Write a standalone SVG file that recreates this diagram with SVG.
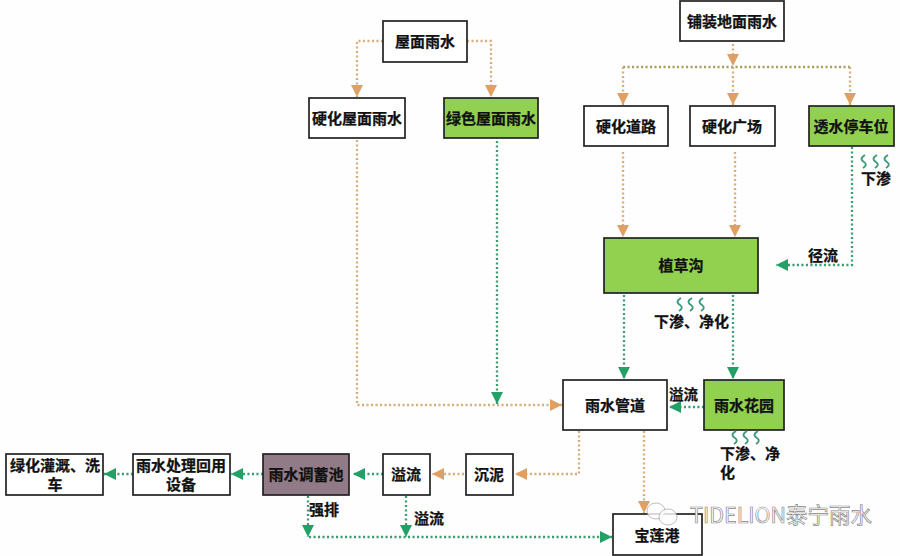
<svg xmlns="http://www.w3.org/2000/svg" width="900" height="556" viewBox="0 0 900 556">
<style>
text{font-family:"Noto Sans CJK SC","Liberation Sans",sans-serif;font-weight:700;font-size:15px;fill:#111;stroke:#111;stroke-width:.25;text-anchor:middle}
.box{fill:#fff;stroke:#222;stroke-width:1.7}
.g{fill:#92d050}
.p{fill:#917b86}
.t,.n{fill:none;stroke-width:2.3;stroke-dasharray:2.1 2.4}
.t{stroke:#d8ae7c;marker-end:url(#at)}
.n{stroke:#3d9a72;marker-end:url(#ag)}
.tl{marker-end:none}
.w{fill:none;stroke:#3f9a7c;stroke-width:1.9}
.lab{text-anchor:start}
.sm{font-size:14.5px}
</style>
<defs>
<marker id="at" markerUnits="userSpaceOnUse" markerWidth="12" markerHeight="12" viewBox="0 0 10 10" refX="10" refY="5" orient="auto"><path d="M0 0L10 5L0 10Z" fill="#e0a064"/></marker>
<marker id="ag" markerUnits="userSpaceOnUse" markerWidth="12" markerHeight="12" viewBox="0 0 10 10" refX="10" refY="5" orient="auto"><path d="M0 0L10 5L0 10Z" fill="#23a065"/></marker>
<path id="wv" d="M3 0C-2 3 -1 5 2 7C5 9 4 11 1 13"/>
</defs>
<rect width="900" height="556" fill="#fefefe"/>
<g id="connectors">
<path class="t" d="M383 41H357V97"/>
<path class="t" d="M467 41H491V97"/>
<path class="t" d="M357 140V405H562"/>
<path class="n" d="M497 141V404"/>
<path class="t" d="M733 44V66"/>
<path class="t tl" style="stroke:#a3a060" d="M623 67H850"/>
<path class="t" d="M623 67V105"/>
<path class="t" d="M733 67V105"/>
<path class="t" d="M850 67V105"/>
<path class="t" d="M623 152V237"/>
<path class="t" d="M735 152V237"/>
<path class="n" d="M852 147V265H776"/>
<path class="n" d="M624 295V379"/>
<path class="n" d="M733 295V379"/>
<path class="n" d="M704 407H669"/>
<path class="t" d="M579 431V474H515"/>
<path class="t" d="M464 474H432"/>
<path class="n" d="M383 474H353"/>
<path class="n" d="M263 474H231"/>
<path class="n" d="M133 474H104"/>
<path class="t" d="M644 431V513"/>
<path class="n" d="M308 496V537"/>
<path class="n" d="M406 496V537"/>
<path class="n" d="M309 537H612"/>
</g>
<g id="n-wumian"><rect class="box" x="383" y="21" width="84" height="41"/><text x="425" y="47">屋面雨水</text></g>
<g id="n-yinghua-wumian"><rect class="box" x="309" y="98" width="96" height="40"/><text x="357" y="124">硬化屋面雨水</text></g>
<g id="n-lvse-wumian"><rect class="box g" x="444" y="98" width="94" height="40"/><text x="491" y="124">绿色屋面雨水</text></g>
<g id="n-puzhuang"><rect class="box" x="680" y="1" width="104" height="40"/><text x="732" y="27">铺装地面雨水</text></g>
<g id="n-daolu"><rect class="box" x="584" y="106" width="84" height="40"/><text x="626" y="132">硬化道路</text></g>
<g id="n-guangchang"><rect class="box" x="690" y="106" width="85" height="40"/><text x="732" y="132">硬化广场</text></g>
<g id="n-tingchewei"><rect class="box g" x="809" y="106" width="85" height="40"/><text x="851" y="132">透水停车位</text></g>
<g id="n-zhicaogou"><rect class="box g" x="604" y="238" width="154" height="55"/><text x="681" y="271">植草沟</text></g>
<g id="n-guandao"><rect class="box" x="563" y="380" width="104" height="50"/><text x="615" y="411">雨水管道</text></g>
<g id="n-huayuan"><rect class="box g" x="704" y="380" width="80" height="50"/><text x="744" y="411">雨水花园</text></g>
<g id="n-baolian"><rect class="box" x="613" y="514" width="89" height="41"/><text x="657" y="541">宝莲港</text></g>
<g id="n-tiaoxu"><rect class="box p" x="263" y="454" width="86" height="41"/><text x="306" y="480">雨水调蓄池</text></g>
<g id="n-yiliu"><rect class="box" x="383" y="454" width="47" height="41"/><text x="406" y="480">溢流</text></g>
<g id="n-chenni"><rect class="box" x="466" y="454" width="47" height="41"/><text x="489" y="480">沉泥</text></g>
<g id="n-chuli"><rect class="box" x="133" y="454" width="97" height="41"/><text x="181" y="471">雨水处理回用</text><text x="181" y="490">设备</text></g>
<g id="n-lvhua"><rect class="box" x="6" y="454" width="97" height="41"/><text x="55" y="471">绿化灌溉、洗</text><text x="55" y="490">车</text></g>
<g id="labels">
<use href="#wv" class="w" x="862" y="155"/><use href="#wv" class="w" x="874" y="155"/><use href="#wv" class="w" x="885" y="155"/>
<use href="#wv" class="w" x="678" y="298"/><use href="#wv" class="w" x="689" y="298"/><use href="#wv" class="w" x="700" y="298"/>
<use href="#wv" class="w" x="733" y="431"/><use href="#wv" class="w" x="744" y="431"/><use href="#wv" class="w" x="755" y="431"/>
<text class="lab" x="861" y="184">下渗</text>
<text class="lab" x="808" y="261">径流</text>
<text class="lab" x="654" y="327">下渗、净化</text>
<text class="lab sm" x="669" y="400">溢流</text>
<text class="lab" x="720" y="459">下渗、净</text>
<text class="lab" x="720" y="478">化</text>
<text class="lab" x="309" y="515">强排</text>
<text class="lab" x="414" y="524">溢流</text>
</g>
<g id="watermark" fill="#fff" stroke="#999" stroke-width="0.8">
<ellipse cx="656" cy="511" rx="9" ry="8" opacity="0.8"/><ellipse cx="668" cy="517" rx="9" ry="8" opacity="0.8"/>
<text x="690" y="523" style="text-anchor:start;font-size:21.5px;font-weight:400;fill:#fff;stroke:#8a8a8a;stroke-width:.7">TIDELION泰宁雨水</text>
</g>
</svg>
